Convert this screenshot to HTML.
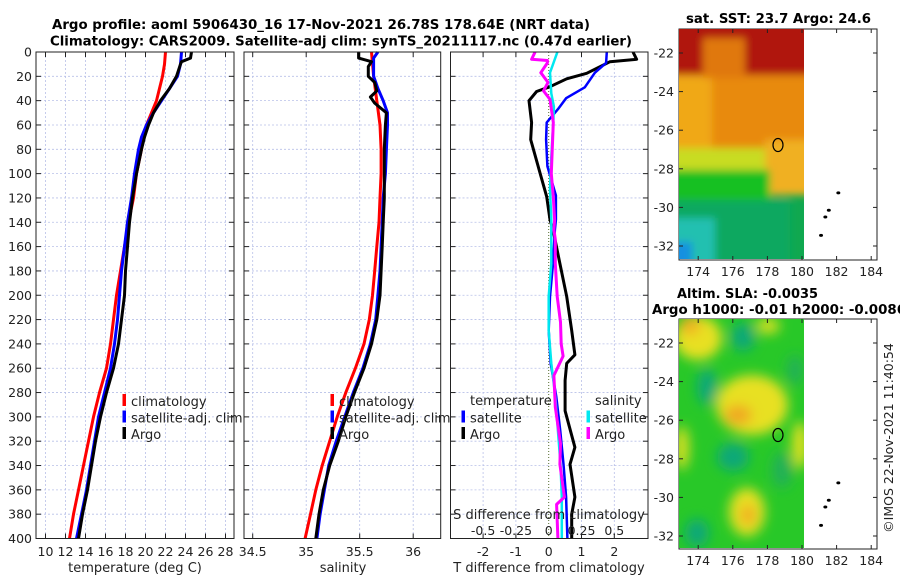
<!DOCTYPE html>
<html><head><meta charset="utf-8"><style>
html,body{margin:0;padding:0;background:#fff;}
svg{display:block;font-family:"DejaVu Sans","Liberation Sans",sans-serif;}
</style></head><body>
<svg id="fig" width="900" height="580" viewBox="0 0 900 580" xmlns="http://www.w3.org/2000/svg">
<defs>
<filter id="bl" filterUnits="userSpaceOnUse" x="650" y="0" width="200" height="290"><feGaussianBlur stdDeviation="4"/></filter>
<filter id="bl2" filterUnits="userSpaceOnUse" x="650" y="290" width="200" height="290"><feGaussianBlur stdDeviation="6"/></filter>
<clipPath id="c1"><rect x="679" y="29" width="125" height="230"/></clipPath>
<clipPath id="c2"><rect x="679" y="319" width="125" height="229"/></clipPath>
<clipPath id="cp3"><rect x="450.5" y="52" width="197.5" height="486.5"/></clipPath>
</defs>
<rect width="900" height="580" fill="#fff"/>
<text x="52" y="29" font-weight="bold" font-size="13.5" textLength="538" lengthAdjust="spacingAndGlyphs">Argo profile: aoml 5906430_16 17-Nov-2021 26.78S 178.64E (NRT data)</text>
<text x="50" y="45.5" font-weight="bold" font-size="13.5" textLength="582" lengthAdjust="spacingAndGlyphs">Climatology: CARS2009. Satellite-adj clim: synTS_20211117.nc (0.47d earlier)</text>
<g id="panels"></g>

<!-- SST map -->
<g>
<text x="686" y="23" font-weight="bold" font-size="13" textLength="185" lengthAdjust="spacingAndGlyphs">sat. SST: 23.7 Argo: 24.6</text>
<rect x="679" y="29" width="198" height="231" fill="#fff" stroke="#222"/>
<g clip-path="url(#c1)">
<rect x="679" y="29" width="125" height="230" fill="#10a850"/>
<g filter="url(#bl)">
<rect x="670" y="20" width="145" height="135" fill="#f0a818"/>
<rect x="712" y="60" width="100" height="100" fill="#e88a10"/>
<rect x="670" y="20" width="145" height="55" fill="#b01808"/>
<rect x="703" y="38" width="42" height="40" fill="#e07810"/>
<rect x="670" y="148" width="145" height="25" fill="#c8dc20"/>
<rect x="765" y="140" width="50" height="55" fill="#f0b020"/>
<rect x="670" y="170" width="100" height="32" fill="#18c020"/>
<rect x="670" y="200" width="120" height="70" fill="#10a860"/>
<rect x="670" y="218" width="45" height="50" fill="#20c0b0"/>
<rect x="670" y="242" width="22" height="25" fill="#1890e0"/>
</g>
</g>
<ellipse cx="778" cy="145" rx="5" ry="6.5" fill="none" stroke="#000" stroke-width="1.2"/>
<g id="islands1"></g>
<g id="axes1"></g>
</g>

<!-- SLA map -->
<g>
<text x="677" y="298" font-weight="bold" font-size="13" textLength="141" lengthAdjust="spacingAndGlyphs">Altim. SLA: -0.0035</text>
<text x="652" y="314" font-weight="bold" font-size="13" textLength="254" lengthAdjust="spacingAndGlyphs">Argo h1000: -0.01 h2000: -0.0086</text>
<rect x="679" y="319" width="198" height="230" fill="#fff" stroke="#222"/>
<g clip-path="url(#c2)">
<rect x="679" y="319" width="125" height="229" fill="#28c828"/>
<g filter="url(#bl2)">
<ellipse cx="743" cy="337" rx="12" ry="14" fill="#10a878"/>
<ellipse cx="707" cy="387" rx="10" ry="18" fill="#10a878"/>
<ellipse cx="733" cy="457" rx="16" ry="14" fill="#10a878"/>
<ellipse cx="697" cy="533" rx="12" ry="14" fill="#10a878"/>
<ellipse cx="782" cy="470" rx="10" ry="18" fill="#20b058"/>
<ellipse cx="795" cy="370" rx="8" ry="15" fill="#20b058"/>
<ellipse cx="698" cy="338" rx="24" ry="22" fill="#e8e020"/>
<ellipse cx="690" cy="325" rx="10" ry="10" fill="#f0b020"/>
<ellipse cx="768" cy="326" rx="12" ry="8" fill="#d8e020"/>
<ellipse cx="752" cy="405" rx="36" ry="30" fill="#e8e020"/>
<ellipse cx="738" cy="415" rx="14" ry="10" fill="#f0a820"/>
<ellipse cx="800" cy="445" rx="8" ry="24" fill="#e0e020"/>
<ellipse cx="682" cy="448" rx="7" ry="22" fill="#e0e020"/>
<ellipse cx="747" cy="512" rx="18" ry="24" fill="#e8e020"/>
<ellipse cx="748" cy="515" rx="7" ry="10" fill="#f0a820"/>
</g>
</g>
<ellipse cx="778" cy="435" rx="5" ry="6.5" fill="none" stroke="#000" stroke-width="1.2"/>
<g id="islands2"></g>
<g id="axes2"></g>
<text transform="translate(893,438) rotate(-90)" text-anchor="middle" font-size="12.5" fill="#222">©IMOS 22-Nov-2021 11:40:54</text>
</g>
</svg>
<script>
// ---------- profile data ----------
const tClimDepth = [0,10,20,30,40,50,60,70,80,100,120,140,160,180,200,220,240,260,280,300,320,340,360,380,400];
const tClimVal   = [22.0,21.9,21.7,21.4,21.1,20.6,20.1,19.8,19.6,19.1,18.8,18.3,17.9,17.5,17.1,16.8,16.5,16.1,15.4,14.8,14.3,13.8,13.3,12.8,12.4];
const tSatDepth  = [0,10,20,30,40,50,60,70,80,100,120,140,160,180,200,220,240,260,280,300,320,340,360,380,400];
const tSatVal    = [23.6,23.5,23.2,22.4,21.6,20.8,20.1,19.6,19.3,18.9,18.6,18.2,17.9,17.6,17.4,17.2,16.9,16.5,15.9,15.3,14.9,14.5,14.1,13.6,13.1];
const tArgoDepth = [0,5,8,10,20,30,40,50,60,70,80,100,120,140,160,180,200,220,240,260,280,300,320,340,360,380,400];
const tArgoVal   = [24.6,24.5,23.6,23.5,23.1,22.4,21.5,20.8,20.3,19.9,19.6,19.1,18.7,18.4,18.2,18.0,17.9,17.6,17.3,16.8,16.1,15.5,15.0,14.6,14.2,13.7,13.3];

const sClimDepth = [0,20,40,60,80,100,120,140,160,180,200,220,240,260,280,300,320,340,360,380,400];
const sClimVal   = [35.61,35.63,35.66,35.69,35.70,35.70,35.69,35.68,35.66,35.64,35.62,35.59,35.54,35.46,35.37,35.29,35.22,35.15,35.09,35.04,34.99];
const sSatDepth  = [0,5,20,30,40,50,60,80,100,120,140,160,180,200,220,240,260,280,300,320,340,360,380,400];
const sSatVal    = [35.67,35.63,35.63,35.67,35.72,35.76,35.76,35.75,35.74,35.72,35.71,35.70,35.69,35.67,35.65,35.60,35.53,35.44,35.36,35.28,35.21,35.17,35.13,35.10];
const sArgoDepth = [0,5,8,12,20,25,32,37,42,50,60,80,100,120,140,160,180,200,220,240,260,280,300,320,340,360,380,400];
const sArgoVal   = [35.49,35.49,35.61,35.58,35.58,35.64,35.66,35.60,35.64,35.75,35.74,35.73,35.73,35.73,35.72,35.71,35.70,35.69,35.66,35.61,35.54,35.45,35.37,35.30,35.22,35.16,35.12,35.09];

const dTArgoDepth = [0,6,8,17.5,22,28.5,32.5,40,58,72,100,119,138,146,174,201,229,249,256,270,295,325,339,366,380,400];
const dTArgoVal   = [2.57,2.68,1.87,1.16,0.55,0.04,-0.37,-0.6,-0.52,-0.55,-0.26,-0.06,0.04,0.13,0.34,0.55,0.7,0.8,0.55,0.5,0.5,0.8,0.65,0.8,0.7,0.7];
const dTSatDepth  = [0,9,17,29,38,47,58,72,94,118,138,146,174,201,229,256,283,311,339,366,400];
const dTSatVal    = [1.77,1.75,1.41,1.1,0.53,0.28,-0.06,-0.08,-0.04,0.22,0.22,0.19,0.13,0.04,0.0,0.06,0.23,0.35,0.45,0.53,0.57];
const dSArgoDepth = [0,6,7,9,17,25,32,39,58,100,119,138,146,154,174,201,222,240,250,266,292,322,339,366,372,400];
const dSArgoVal   = [-0.104,-0.13,-0.01,-0.01,-0.06,-0.005,-0.04,0.01,0.035,0.02,0.035,0.045,0.04,0.05,0.05,0.065,0.09,0.095,0.11,0.04,0.05,0.09,0.085,0.12,0.06,0.07];
const dSSatDepth  = [0,17,34,45,58,86,113,138,174,201,229,256,283,311,339,366,400];
const dSSatVal    = [0.066,0.01,0.02,0.04,0.035,0.02,0.01,0.02,0.02,0.0,0.0,0.02,0.05,0.07,0.09,0.1,0.1];

const depthTicks = [0,20,40,60,80,100,120,140,160,180,200,220,240,260,280,300,320,340,360,380,400];
const tTicks = [10,12,14,16,18,20,22,24,26,28];
const sTicks = [34.5,35,35.5,36];
const sTickLabels = ["34.5","35","35.5","36"];
const dTTicks = [-2,-1,0,1,2];
const dSTicks = [-0.5,-0.25,0,0.25,0.5];
const dSTickLabels = ["-0.5","-0.25","0","0.25","0.5"];

// map data
const lonTicks = [174,176,178,180,182,184];
const latTicks = [-22,-24,-26,-28,-30,-32];
const islandLon = [182.1,181.55,181.35,181.1];
const islandLat = [-29.25,-30.15,-30.5,-31.45];

const NS = "http://www.w3.org/2000/svg";
function el(tag, attrs, parent, txt){
  const e = document.createElementNS(NS, tag);
  for (const k in attrs) e.setAttribute(k, attrs[k]);
  if (txt !== undefined) e.textContent = txt;
  parent.appendChild(e);
  return e;
}
const TOP = 52, BOT = 538.5;
const yD = d => TOP + d * (BOT - TOP) / 400;
const xT = t => 45.5 + (t - 10) * 10;
const xS = s => 252.7 + (s - 34.5) * 107;
const xdT = t => 548.7 + t * 32.8;
const xdS = s => 548.7 + s * 131.2;

const root = document.getElementById('panels');

function panel(name, x0, x1){
  const g = el('g', {}, root);
  
  
  const bg = el('rect', {x:x0-1, y:TOP-1, width:x1-x0+2, height:BOT-TOP+2, fill:'#fff'}, g);
  
  
  depthTicks.forEach(d => {
    const l = el('line', {x1:x0, x2:x1, y1:yD(d), y2:yD(d), stroke:'#b8c0e8', 'stroke-width':0.8, 'stroke-dasharray':'2,2'}, g);
    
    
    el('line', {x1:x0, x2:x0+5, y1:yD(d), y2:yD(d), stroke:'#222'}, g);
    el('line', {x1:x1, x2:x1-5, y1:yD(d), y2:yD(d), stroke:'#222'}, g);
  });
  return g;
}
function vgrid(g, xs){
  xs.forEach(x => {
    const l = el('line', {x1:x, x2:x, y1:TOP, y2:BOT, stroke:'#b8c0e8', 'stroke-width':0.8, 'stroke-dasharray':'2,2'}, g);
    
    
    el('line', {x1:x, x2:x, y1:BOT, y2:BOT-5, stroke:'#222'}, g);
    el('line', {x1:x, x2:x, y1:TOP, y2:TOP+5, stroke:'#222'}, g);
  });
}
function frame(g, x0, x1, name){
  const f = el('rect', {x:x0, y:TOP, width:x1-x0, height:BOT-TOP, fill:'none', stroke:'#222', 'stroke-width':1}, g);
  
  
}
function line(g, depths, vals, xf, color, w, name, clip){
  const pts = depths.map((d,i) => xf(vals[i]).toFixed(1) + ',' + yD(d).toFixed(1)).join(' ');
  const p = el('polyline', {points:pts, fill:'none', stroke:color, 'stroke-width':w, 'stroke-linejoin':'round'}, g);
  if (clip) p.setAttribute('clip-path', clip);
  
  
}
function legendEntry(g, x, y, color, label, name){
  el('rect', {x:x-1.5, y:y-12, width:3.5, height:12, fill:color}, g);
  const t = el('text', {x:x+7, y:y, 'font-size':13, fill:'#222'}, g, label);
  
  
}

// Panel 1 temperature
const p1 = panel('temperature-panel', 36, 234);
vgrid(p1, tTicks.map(xT));
line(p1, tClimDepth, tClimVal, xT, '#f00', 3, 'temperature-climatology-line');
line(p1, tSatDepth, tSatVal, xT, '#00f', 3, 'temperature-satellite-line');
line(p1, tArgoDepth, tArgoVal, xT, '#000', 3, 'temperature-argo-line');
legendEntry(p1, 124, 406, '#f00', 'climatology', 'legend-climatology');
legendEntry(p1, 124, 422.5, '#00f', 'satellite-adj. clim', 'legend-satellite-adj-clim');
legendEntry(p1, 124, 439, '#000', 'Argo', 'legend-argo');
frame(p1, 36, 234, 'temperature-axes-frame');
depthTicks.forEach(d => {
  const t = el('text', {x:32, y:yD(d)+4.5, 'text-anchor':'end', 'font-size':12.5, fill:'#222'}, root, String(d));
  
  
});
tTicks.forEach(v => {
  const t = el('text', {x:xT(v), y:556, 'text-anchor':'middle', 'font-size':12.5, fill:'#222'}, root, String(v));
  
  
});
{ const t = el('text', {x:135, y:572, 'text-anchor':'middle', 'font-size':13, fill:'#222'}, root, 'temperature (deg C)');
  
   }

// Panel 2 salinity
const p2 = panel('salinity-panel', 244, 440.7);
vgrid(p2, sTicks.map(xS));
line(p2, sClimDepth, sClimVal, xS, '#f00', 3, 'salinity-climatology-line');
line(p2, sSatDepth, sSatVal, xS, '#00f', 3, 'salinity-satellite-line');
line(p2, sArgoDepth, sArgoVal, xS, '#000', 3, 'salinity-argo-line');
legendEntry(p2, 332, 406, '#f00', 'climatology', 'legend-climatology-2');
legendEntry(p2, 332, 422.5, '#00f', 'satellite-adj. clim', 'legend-satellite-adj-clim-2');
legendEntry(p2, 332, 439, '#000', 'Argo', 'legend-argo-2');
frame(p2, 244, 440.7, 'salinity-axes-frame');
sTicks.forEach((v,i) => {
  const t = el('text', {x:xS(v), y:556, 'text-anchor':'middle', 'font-size':12.5, fill:'#222'}, root, sTickLabels[i]);
  
  
});
{ const t = el('text', {x:343, y:572, 'text-anchor':'middle', 'font-size':13, fill:'#222'}, root, 'salinity');
  
   }

// Panel 3 differences
const p3 = panel('difference-panel', 450.5, 648);
vgrid(p3, dTTicks.filter(v => v !== 0).map(xdT));
{ const z = el('line', {x1:xdT(0), x2:xdT(0), y1:TOP, y2:BOT, stroke:'#556b2f', 'stroke-width':1, 'stroke-dasharray':'1,2'}, p3);
  
   }
line(p3, dTArgoDepth, dTArgoVal, xdT, '#000', 3, 'temp-diff-argo-line', 'url(#cp3)');
line(p3, dTSatDepth, dTSatVal, xdT, '#00f', 2.5, 'temp-diff-satellite-line', 'url(#cp3)');
line(p3, dSSatDepth, dSSatVal, xdS, '#00e8f0', 2.5, 'sal-diff-satellite-line', 'url(#cp3)');
line(p3, dSArgoDepth, dSArgoVal, xdS, '#f0f', 3, 'sal-diff-argo-line', 'url(#cp3)');
{ const t = el('text', {x:470, y:405, 'font-size':13, fill:'#222'}, p3, 'temperature');
  
   }
legendEntry(p3, 463, 422.5, '#00f', 'satellite', 'legend-temp-satellite');
legendEntry(p3, 463, 439, '#000', 'Argo', 'legend-temp-argo');
{ const t = el('text', {x:595, y:405, 'font-size':13, fill:'#222'}, p3, 'salinity');
  
   }
legendEntry(p3, 588, 422.5, '#00e8f0', 'satellite', 'legend-sal-satellite');
legendEntry(p3, 588, 439, '#f0f', 'Argo', 'legend-sal-argo');
{ const t = el('text', {x:549, y:519, 'text-anchor':'middle', 'font-size':13, fill:'#222'}, p3, 'S difference from climatology');
  
   }
dSTicks.forEach((v,i) => {
  const t = el('text', {x:xdS(v), y:535, 'text-anchor':'middle', 'font-size':12.5, fill:'#222'}, p3, dSTickLabels[i]);
  
  
});
frame(p3, 450.5, 648, 'difference-axes-frame');
dTTicks.forEach(v => {
  const t = el('text', {x:xdT(v), y:556, 'text-anchor':'middle', 'font-size':12.5, fill:'#222'}, root, String(v));
  
  
});
{ const t = el('text', {x:549, y:572, 'text-anchor':'middle', 'font-size':13, fill:'#222'}, root, 'T difference from climatology');
  
   }

// Map axes
function mapAxes(gid, islId, top, lat22y, lat32y, bottom){
  const g = document.getElementById(gid);
  const xL = lon => 802 + (lon - 180) * 17.3;
  const yL = lat => lat22y + (-22 - lat) * (lat32y - lat22y) / 10;
  lonTicks.forEach(lon => {
    el('line', {x1:xL(lon), x2:xL(lon), y1:bottom, y2:bottom-4, stroke:'#222'}, g);
    el('line', {x1:xL(lon), x2:xL(lon), y1:top, y2:top+4, stroke:'#222'}, g);
    const t = el('text', {x:xL(lon), y:bottom+16, 'text-anchor':'middle', 'font-size':12.5, fill:'#222'}, g, String(lon));
    
    
  });
  latTicks.forEach(lat => {
    el('line', {x1:679, x2:683, y1:yL(lat), y2:yL(lat), stroke:'#222'}, g);
    el('line', {x1:877, x2:873, y1:yL(lat), y2:yL(lat), stroke:'#222'}, g);
    const t = el('text', {x:674, y:yL(lat)+4.5, 'text-anchor':'end', 'font-size':12.5, fill:'#222'}, g, String(lat));
    
    
  });
  const ig = document.getElementById(islId);
  islandLon.forEach((lon,i) => {
    const c = el('ellipse', {cx:xL(lon), cy:yL(islandLat[i]), rx:2, ry:1.5, fill:'#000'}, ig);
    
    
  });
}
mapAxes('axes1', 'islands1', 29, 53, 246, 260);
mapAxes('axes2', 'islands2', 319, 343, 536, 549);
</script>
</body></html>
